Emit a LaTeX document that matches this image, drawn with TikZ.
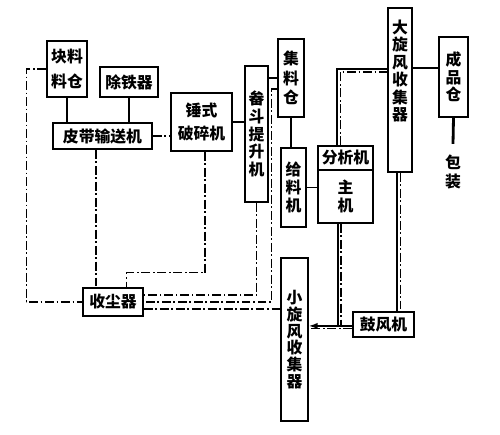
\documentclass[tikz,border=0pt]{standalone}
\usepackage{fontspec}
\newfontfamily\cjk{Noto Sans CJK SC}
\usepackage{tikz}
\usetikzlibrary{arrows.meta}

\tikzset{
  box/.style={draw, line width=0.9pt, inner sep=0pt, align=center,
    font=\cjk\bfseries\fontsize{9}{10}\selectfont},
  txt/.style={inner sep=0pt, align=center, font=\cjk\bfseries\fontsize{9}{10}\selectfont},
  link/.style={line width=0.8pt},
  dline/.style={line width=0.7pt, dash pattern=on 5pt off 1.6pt on 0.9pt off 1.6pt},
}

\begin{document}
\begin{tikzpicture}[x=0.02cm, y=-0.02cm]
        \useasboundingbox (0,0) rectangle (500,434);
        % boxes
        \node[box, minimum width=40*0.02cm, minimum height=56*0.02cm, font=\cjk\bfseries\fontsize{9}{14}\selectfont] (cang) at (67,69) {块料\\料仓};
        \node[box, minimum width=58*0.02cm, minimum height=30*0.02cm] (chutie) at (129,82) {除铁器};
        \node[box, minimum width=99*0.02cm, minimum height=26*0.02cm] (pidai) at (102.5,136) {皮带输送机};
        \node[box, minimum width=61*0.02cm, minimum height=58*0.02cm, font=\cjk\bfseries\fontsize{9}{13}\selectfont] (posui) at (201.5,122) {锤式\\破碎机};
        \node[box, minimum width=23*0.02cm, minimum height=136*0.02cm] (tisheng) at (256.5,134) {畚\\斗\\提\\升\\机};
        \node[box, minimum width=26*0.02cm, minimum height=78*0.02cm, font=\cjk\bfseries\fontsize{9}{11}\selectfont] (jiliao) at (291,78) {集\\料\\仓};
        \node[box, minimum width=25*0.02cm, minimum height=79*0.02cm] (geiliao) at (293.5,187.5) {给\\料\\机};
        \node[box, minimum width=55*0.02cm, minimum height=24*0.02cm] (fenxi) at (345.5,158) {分析机};
        \node[box, minimum width=55*0.02cm, minimum height=53*0.02cm] (zhuji) at (345.5,196.5) {主\\机};
        \node[box, minimum width=24*0.02cm, minimum height=164*0.02cm] (dxf) at (400,90) {};
        \node[txt] (dxft) at (400,71) {大\\旋\\风\\收\\集\\器};
        \node[box, minimum width=29*0.02cm, minimum height=80*0.02cm] (chengpin) at (453.5,77) {成\\品\\仓};
        \node[txt, font=\cjk\bfseries\fontsize{9}{11}\selectfont] (bz) at (453,172) {包\\装};
        \node[box, minimum width=60*0.02cm, minimum height=28*0.02cm] (shouchen) at (113,302) {收尘器};
        \node[box, minimum width=27*0.02cm, minimum height=163*0.02cm, font=\cjk\bfseries\fontsize{9}{9.5}\selectfont] (xxf) at (294.5,339.5) {小\\旋\\风\\收\\集\\器};
        \node[box, minimum width=61*0.02cm, minimum height=25*0.02cm] (gufeng) at (383.5,324.5) {鼓风机};

        % material flow
        \draw[link] (cang.south) -- (cang.south |- pidai.north);
        \draw[link] (chutie.south) -- (chutie.south |- pidai.north);
        \draw[dline] (pidai.east) -- (pidai.east -| posui.west);
        \draw[link] (posui.east) -- (posui.east -| tisheng.west);
        \draw[link] (jiliao.west -| tisheng.east) -- (jiliao.west);
        \draw[link] (jiliao.south) -- (jiliao.south |- geiliao.north);
        \draw[link] (geiliao.east) -- (geiliao.east -| zhuji.west);
        \draw[link] ([xshift=-4.8pt]fenxi.north) |- ([yshift=11.9pt]dxf.west);
        \draw[dline] ([xshift=-3pt]fenxi.north) |- ([yshift=10.2pt]dxf.west);
        \draw[link] ([yshift=12.5pt]dxf.east) -- ([yshift=12.5pt]dxf.east -| chengpin.west);
        \draw[line width=1.6pt] (chengpin.south) -- ([yshift=6pt]bz.north);

        % air loop
        \draw[link] ([xshift=-1.6pt]dxf.south) -- ([xshift=-1.6pt]dxf.south |- gufeng.north);
        \draw[dline] ([xshift=0.2pt]dxf.south) -- ([xshift=0.2pt]dxf.south |- gufeng.north);
        \draw[link] ([xshift=-4.3pt]zhuji.south) -- ([xshift=-4.3pt]zhuji.south |- gufeng.west);
        \draw[dline] ([xshift=-2.5pt]zhuji.south) -- ([xshift=-2.5pt]zhuji.south |- gufeng.west);
        \draw[link, -{Latex[length=5pt, width=3.5pt]}] ([yshift=-0.8pt]gufeng.west) -- ([yshift=-0.8pt]gufeng.west -| xxf.east);
        \draw[dline] ([yshift=-2.2pt]gufeng.west) -- ([yshift=-2.2pt]gufeng.west -| xxf.east);

        % dust lines
        \draw[dline] (cang.west) -- ++(-20,0) |- (shouchen.west);
        \draw[dline] ([xshift=-3.7pt]pidai.south) -- ([xshift=-3.7pt]pidai.south |- shouchen.north);
        \draw[dline] ([xshift=2pt]posui.south) -- ++(0,121) -| ([xshift=7.9pt]shouchen.north);
        \draw[dline] (tisheng.south) |- ([yshift=4pt]shouchen.east);
        \draw[dline] ([yshift=-6.2pt]jiliao.west) -- ++(-6,0) |- (shouchen.east);
        \draw[dline] ([yshift=-4pt]shouchen.east) -- ([yshift=-4pt]shouchen.east -| xxf.west);
    \end{tikzpicture}
\end{document}
